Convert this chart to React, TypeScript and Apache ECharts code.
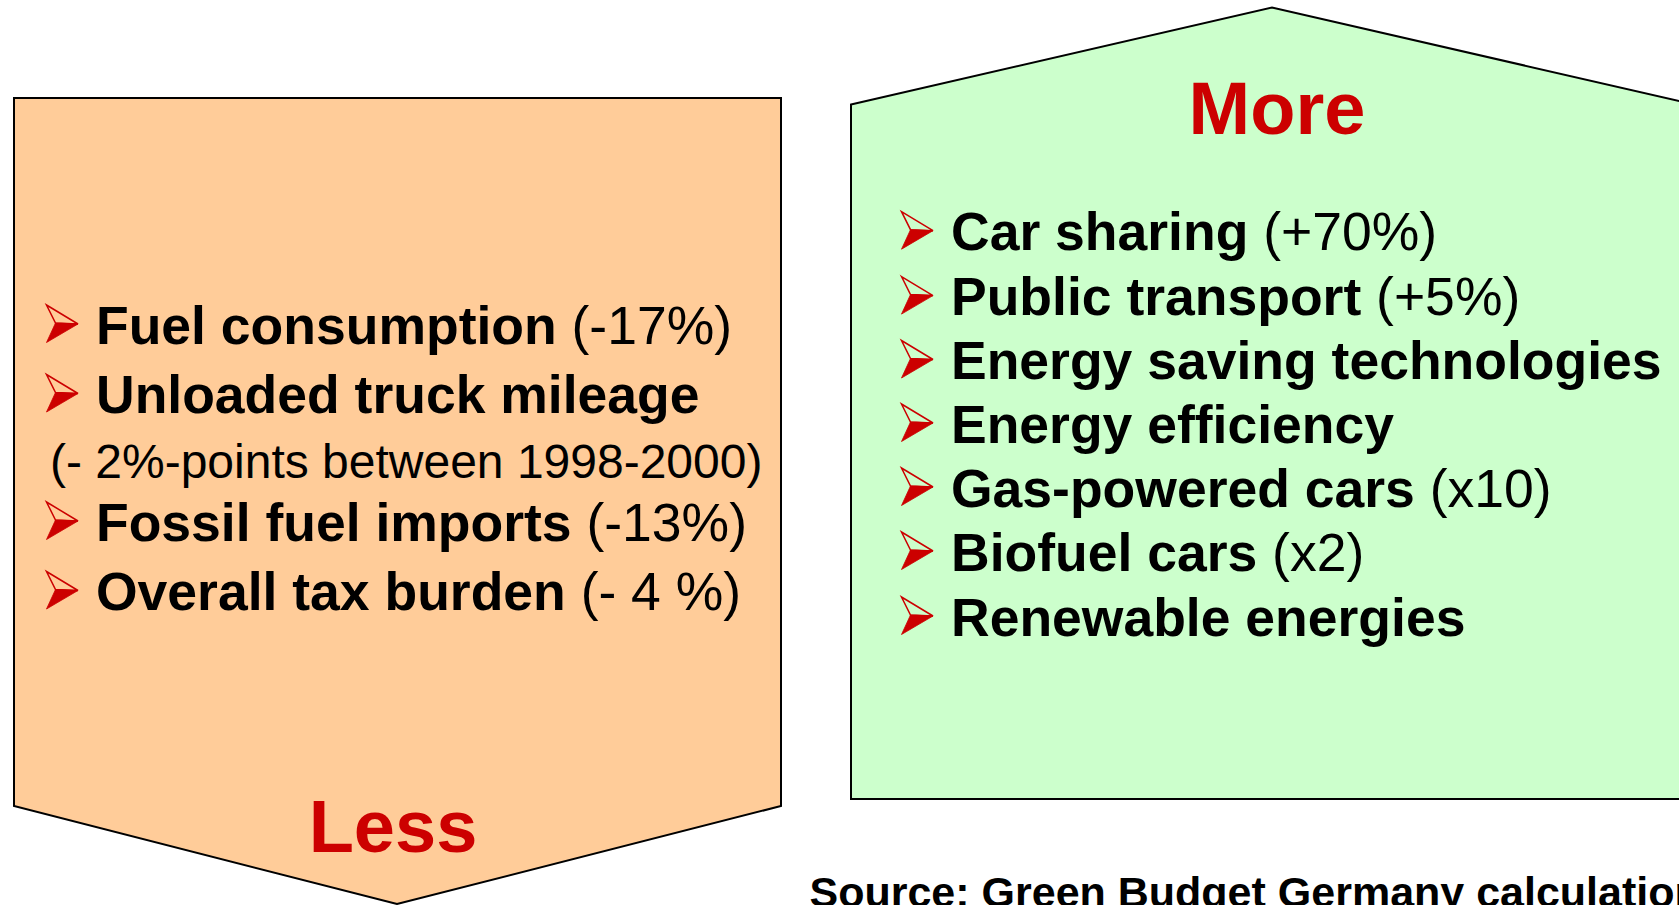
import React, { useEffect, useRef } from "react";
import * as echarts from "echarts";

// ---- content ----
const lessTitle = "Less";
const moreTitle = "More";
const lessLabels = ["Fuel consumption", "Unloaded truck mileage", "Fossil fuel imports", "Overall tax burden"];
const lessValues = ["(-17%)", "", "(-13%)", "(- 4 %)"];
const lessNote = "(- 2%-points between 1998-2000)";
const moreLabels = [
  "Car sharing",
  "Public transport",
  "Energy saving technologies",
  "Energy efficiency",
  "Gas-powered cars",
  "Biofuel cars",
  "Renewable energies",
];
const moreValues = ["(+70%)", "(+5%)", "", "", "(x10)", "(x2)", ""];
const sourceText = "Source: Green Budget Germany calculations";

// ---- layout ----
const FONT = "'Liberation Sans', Arial, Helvetica, sans-serif";
const RED = "#CC0000";
const ORANGE = "#FFCC99";
const GREEN = "#CCFFCC";
const ITEM_SIZE = 53.5;
const NOTE_SIZE = 48;
const TITLE_SIZE = 74;

const lessY = [325, 394.5, 522, 591.5];
const lessNoteY = 461.5;
const moreY = [231.7, 296.6, 360.5, 424, 488, 552, 617];

function arrow(x: number, yc: number): any[] {
  // arrowhead bullet: top-left at (x, yc-19), tip at (x+31.5, yc)
  const top = yc - 19;
  return [
    {
      type: "polygon",
      shape: { points: [[x, top], [x + 31.5, top + 19], [x + 9, top + 18]] },
      style: { fill: "none", stroke: RED, lineWidth: 1.5 },
    },
    {
      type: "polygon",
      shape: { points: [[x + 9, top + 18], [x + 31.5, top + 19], [x, top + 37.5]] },
      style: { fill: RED, stroke: RED, lineWidth: 0.8 },
    },
  ];
}

function itemText(x: number, y: number, bold: string, normal: string): any {
  return {
    type: "text",
    style: {
      text: normal ? `{b|${bold} }{r|${normal}}` : `{b|${bold}}`,
      x,
      y,
      align: "left",
      verticalAlign: "middle",
      rich: {
        b: { fontFamily: FONT, fontWeight: "bold", fontSize: ITEM_SIZE, fill: "#000" },
        r: { fontFamily: FONT, fontWeight: "normal", fontSize: ITEM_SIZE, fill: "#000" },
      },
    },
  };
}

export default function App() {
  const ref = useRef<HTMLDivElement>(null);

  useEffect(() => {
    if (!ref.current) return;
    const chart = echarts.init(ref.current, undefined, { renderer: "svg" });

    const elements: any[] = [];

    // Left (Less) box – downward arrow shape
    elements.push({
      type: "polygon",
      shape: { points: [[14, 98], [781, 98], [781, 806], [397, 904], [14, 806]] },
      style: { fill: ORANGE, stroke: "#000", lineWidth: 2 },
    });
    // Right (More) box – upward arrow shape
    elements.push({
      type: "polygon",
      shape: { points: [[851, 104.5], [1272, 7.5], [1694, 104.5], [1694, 799], [851, 799]] },
      style: { fill: GREEN, stroke: "#000", lineWidth: 2 },
    });

    lessLabels.forEach((lab, i) => {
      elements.push(...arrow(46.5, lessY[i] - 1));
      elements.push(itemText(96, lessY[i], lab, lessValues[i]));
    });
    elements.push({
      type: "text",
      style: {
        text: lessNote,
        x: 50,
        y: lessNoteY,
        align: "left",
        verticalAlign: "middle",
        fontFamily: FONT,
        fontSize: NOTE_SIZE,
        fill: "#000",
      },
    });

    moreLabels.forEach((lab, i) => {
      elements.push(...arrow(901.5, moreY[i] - 1));
      elements.push(itemText(951, moreY[i], lab, moreValues[i]));
    });

    elements.push({
      type: "text",
      style: {
        text: lessTitle,
        x: 393,
        y: 826,
        align: "center",
        verticalAlign: "middle",
        fontFamily: FONT,
        fontWeight: "bold",
        fontSize: TITLE_SIZE,
        fill: RED,
      },
    });
    elements.push({
      type: "text",
      style: {
        text: moreTitle,
        x: 1277,
        y: 108.3,
        align: "center",
        verticalAlign: "middle",
        fontFamily: FONT,
        fontWeight: "bold",
        fontSize: TITLE_SIZE,
        fill: RED,
      },
    });
    // Source line: in the reference it runs past the right/bottom edges of the slide
    elements.push({
      type: "text",
      style: {
        text: sourceText,
        x: 809.5,
        y: 892,
        align: "left",
        verticalAlign: "middle",
        fontFamily: FONT,
        fontWeight: "bold",
        fontSize: 43,
        fill: "#000",
      },
    });

    chart.setOption({
      animation: false,
      backgroundColor: "#ffffff",
      graphic: { elements },
    });

    return () => chart.dispose();
  }, []);

  return (
    <div
      ref={ref}
      style={{ position: "absolute", left: 0, top: 0, width: "1679px", height: "905px", overflow: "hidden" }}
    />
  );
}
